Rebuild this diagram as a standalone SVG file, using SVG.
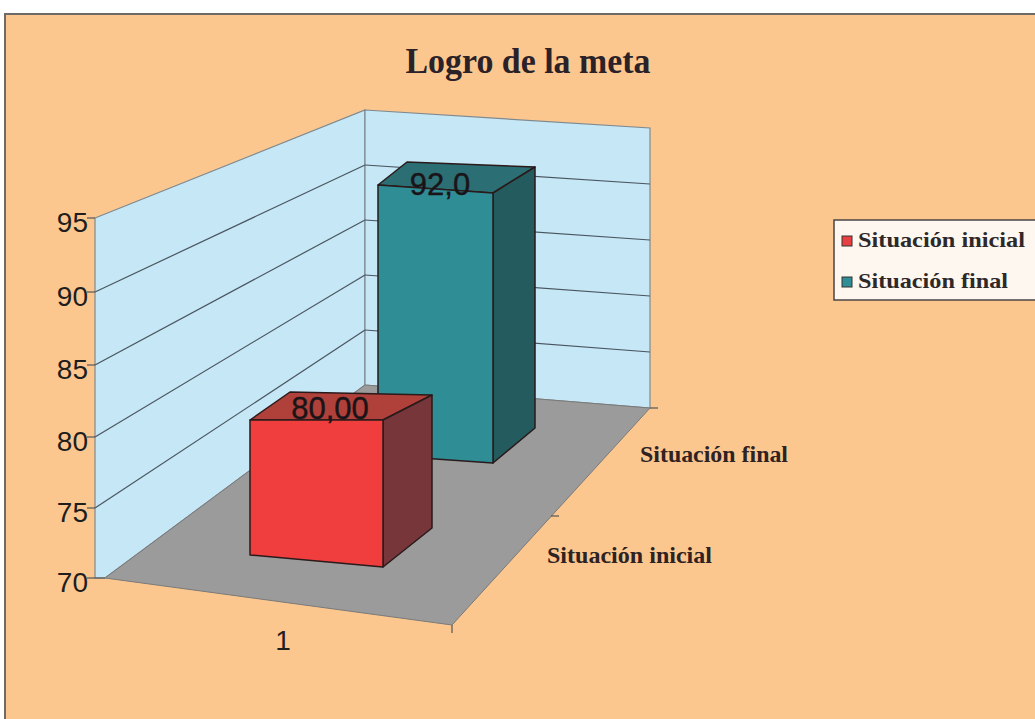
<svg xmlns="http://www.w3.org/2000/svg" width="1035" height="719" viewBox="0 0 1035 719">
<style>
.ax{font-family:"Liberation Sans",Arial,sans-serif;font-size:28px;fill:#1e1e1e}
.val{font-family:"Liberation Sans",Arial,sans-serif;font-size:31px;fill:#1a1418;stroke:#1a1418;stroke-width:0.4}
.cat{font-family:"Liberation Serif","Times New Roman",serif;font-size:24px;font-weight:bold;fill:#2e2222}
.leg{font-family:"Liberation Serif","Times New Roman",serif;font-size:21px;font-weight:bold;fill:#2e2828}
.grid{stroke:#4a5560;stroke-width:1.2;fill:none}
.wall{fill:#c6e7f6;stroke:#7f8a90;stroke-width:1.2}
.edge{stroke:#2a1a1a;stroke-width:1.5;stroke-linejoin:round}
</style>
<rect x="0" y="0" width="1035" height="719" fill="#ffffff"/>
<rect id="frame" x="5" y="14" width="1040" height="720" fill="#fcc78f" stroke="#6f6a66" stroke-width="2"/>
<text x="528" y="73" text-anchor="middle" font-family="Liberation Serif,Times New Roman,serif" font-weight="bold" font-size="35" fill="#2a2228" textLength="245" lengthAdjust="spacingAndGlyphs">Logro de la meta</text>
<g id="walls">
<polygon class="wall" points="95,218 365,110 365,385 105,578 95,578"/>
<polygon class="wall" points="365,110 650,128 650,408 365,385"/>
<polygon fill="#9b9b9b" stroke="#7a7a7a" stroke-width="1" points="105,578 365,385 650,408 452,625"/>
</g>
<g id="gridlines">
<line class="grid" x1="95" y1="292" x2="365" y2="165"/>
<line class="grid" x1="95" y1="365" x2="365" y2="220"/>
<line class="grid" x1="95" y1="437" x2="365" y2="275"/>
<line class="grid" x1="95" y1="508" x2="365" y2="330"/>
<line class="grid" x1="365" y1="165" x2="650" y2="184"/>
<line class="grid" x1="365" y1="220" x2="650" y2="240"/>
<line class="grid" x1="365" y1="275" x2="650" y2="296"/>
<line class="grid" x1="365" y1="330" x2="650" y2="352"/>
</g>
<g id="axes" stroke="#555" stroke-width="1.2">
<line x1="87" y1="218" x2="95" y2="218"/>
<line x1="87" y1="292" x2="95" y2="292"/>
<line x1="87" y1="365" x2="95" y2="365"/>
<line x1="87" y1="437" x2="95" y2="437"/>
<line x1="87" y1="508" x2="95" y2="508"/>
<line x1="87" y1="578" x2="105" y2="578"/>
<line x1="452" y1="625" x2="452" y2="633"/>
<line x1="650" y1="408" x2="658" y2="408"/>
<line x1="551" y1="516" x2="559" y2="516"/>
</g>
<g id="bar-final">
<polygon fill="#2b6f74" class="edge" points="378,185 407,162 535,167 493,193"/>
<polygon fill="#235b5f" class="edge" points="493,193 535,167 535,428 493,463"/>
<polygon fill="#2f8d96" class="edge" points="378,185 493,193 493,463 378,455"/>
<text class="val" x="440" y="195" text-anchor="middle">92,0</text>
</g>
<g id="bar-inicial">
<polygon fill="#b0403a" class="edge" points="250,420 290,392 432,395 383,420"/>
<polygon fill="#77363a" class="edge" points="383,420 432,395 432,528 383,567"/>
<polygon fill="#f03e3e" class="edge" points="250,420 383,420 383,567 250,555"/>
<text class="val" x="330" y="419" text-anchor="middle">80,00</text>
</g>
<g id="labels">
<text class="ax" x="88" y="232" text-anchor="end">95</text>
<text class="ax" x="88" y="306" text-anchor="end">90</text>
<text class="ax" x="88" y="379" text-anchor="end">85</text>
<text class="ax" x="88" y="451" text-anchor="end">80</text>
<text class="ax" x="88" y="522" text-anchor="end">75</text>
<text class="ax" x="88" y="592" text-anchor="end">70</text>
<text class="ax" x="283" y="650" text-anchor="middle">1</text>
<text class="cat" x="640" y="462" textLength="148" lengthAdjust="spacingAndGlyphs">Situación final</text>
<text class="cat" x="547" y="563" textLength="165" lengthAdjust="spacingAndGlyphs">Situación inicial</text>
</g>
<g id="legend">
<rect x="834" y="220" width="210" height="80" fill="#fdf7f0" stroke="#4a4444" stroke-width="1.5"/>
<rect x="842" y="236" width="10" height="10" fill="#e84040" stroke="#333" stroke-width="1"/>
<text class="leg" x="858" y="247" textLength="167" lengthAdjust="spacingAndGlyphs">Situación inicial</text>
<rect x="842" y="277" width="10" height="10" fill="#2f8d96" stroke="#333" stroke-width="1"/>
<text class="leg" x="858" y="288" textLength="150" lengthAdjust="spacingAndGlyphs">Situación final</text>
</g>
</svg>
